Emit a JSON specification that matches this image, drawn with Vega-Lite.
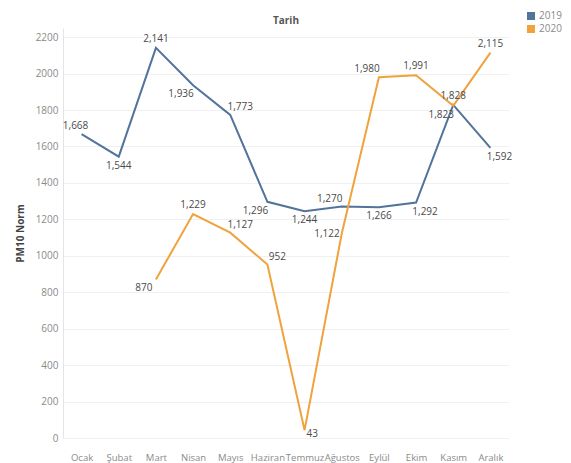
{
  "$schema": "https://vega.github.io/schema/vega-lite/v6.json",
  "autosize": {"type": "none"},
  "padding": {"left": 63, "top": 28, "right": 62, "bottom": 25},
  "width": 446,
  "height": 410,
  "background": "white",
  "title": {
    "text": "Tarih",
    "anchor": "middle",
    "frame": "group",
    "fontSize": 10,
    "fontWeight": "bold",
    "color": "#555555",
    "font": "Open Sans",
    "baseline": "middle",
    "offset": 0,
    "dy": 20
  },
  "config": {
    "font": "Open Sans",
    "view": {"stroke": null},
    "axis": {
      "labelFont": "Open Sans",
      "labelFontSize": 10,
      "labelColor": "#8a8a8a",
      "ticks": false,
      "titleFont": "Open Sans",
      "titleFontSize": 10,
      "titleFontWeight": "bold",
      "titleColor": "#444444"
    }
  },
  "data": {
    "values": [
      {"month": "Ocak", "year": "2019", "pm10": 1668},
      {"month": "Şubat", "year": "2019", "pm10": 1544},
      {"month": "Mart", "year": "2019", "pm10": 2141},
      {"month": "Nisan", "year": "2019", "pm10": 1936},
      {"month": "Mayıs", "year": "2019", "pm10": 1773},
      {"month": "Haziran", "year": "2019", "pm10": 1296},
      {"month": "Temmuz", "year": "2019", "pm10": 1244},
      {"month": "Ağustos", "year": "2019", "pm10": 1270},
      {"month": "Eylül", "year": "2019", "pm10": 1266},
      {"month": "Ekim", "year": "2019", "pm10": 1292},
      {"month": "Kasım", "year": "2019", "pm10": 1828},
      {"month": "Aralık", "year": "2019", "pm10": 1592},
      {"month": "Mart", "year": "2020", "pm10": 870},
      {"month": "Nisan", "year": "2020", "pm10": 1229},
      {"month": "Mayıs", "year": "2020", "pm10": 1127},
      {"month": "Haziran", "year": "2020", "pm10": 952},
      {"month": "Temmuz", "year": "2020", "pm10": 43},
      {"month": "Ağustos", "year": "2020", "pm10": 1122},
      {"month": "Eylül", "year": "2020", "pm10": 1980},
      {"month": "Ekim", "year": "2020", "pm10": 1991},
      {"month": "Kasım", "year": "2020", "pm10": 1823},
      {"month": "Aralık", "year": "2020", "pm10": 2115}
    ]
  },
  "encoding": {
    "x": {
      "field": "month",
      "type": "ordinal",
      "sort": ["Ocak", "Şubat", "Mart", "Nisan", "Mayıs", "Haziran", "Temmuz", "Ağustos", "Eylül", "Ekim", "Kasım", "Aralık"],
      "scale": {"type": "point", "padding": 0.5},
      "axis": {"title": null, "labelAngle": 0, "labelPadding": 14, "labelFontSize": 9.5, "domain": false, "grid": false}
    },
    "y": {
      "field": "pm10",
      "type": "quantitative",
      "scale": {"domain": [0, 2250], "nice": false},
      "axis": {
        "title": "PM10 Norm",
        "values": [0, 200, 400, 600, 800, 1000, 1200, 1400, 1600, 1800, 2000, 2200],
        "format": "d",
        "labelPadding": 5,
        "titlePadding": 10,
        "domain": true,
        "domainColor": "#e4e4e4",
        "grid": true,
        "gridColor": "#f0f0f0"
      }
    }
  },
  "layer": [
    {
      "mark": {"type": "line", "strokeWidth": 2},
      "encoding": {
        "color": {
          "field": "year",
          "type": "nominal",
          "scale": {"domain": ["2019", "2020"], "range": ["#52739a", "#f0a23c"]},
          "legend": {
            "title": null,
            "orient": "none",
            "legendX": 463,
            "legendY": -17,
            "symbolType": "square",
            "symbolSize": 64,
            "symbolStrokeWidth": 0,
            "labelFontSize": 10,
            "labelColor": "#8a8a8a",
            "labelFont": "Open Sans",
            "rowPadding": 3,
            "labelOffset": 3,
            "encode": {
              "symbols": {"update": {"fill": {"scale": "color", "field": "value"}, "fillOpacity": {"value": 1}}}
            }
          }
        }
      }
    },
    {
      "transform": [{"filter": "indexof(['2019|Mart','2019|Kasım','2020|Nisan','2020|Ekim','2020|Aralık'], datum.year + '|' + datum.month) >= 0"}],
      "mark": {"type": "text", "dx": 0, "dy": -9, "fontSize": 10, "color": "#4a4a4a"},
      "encoding": {"text": {"field": "pm10", "type": "quantitative", "format": ","}}
    },
    {
      "transform": [{"filter": "indexof(['2019|Şubat','2019|Temmuz','2019|Eylül'], datum.year + '|' + datum.month) >= 0"}],
      "mark": {"type": "text", "dx": 0, "dy": 9, "fontSize": 10, "color": "#4a4a4a"},
      "encoding": {"text": {"field": "pm10", "type": "quantitative", "format": ","}}
    },
    {
      "transform": [{"filter": "indexof(['2019|Ocak'], datum.year + '|' + datum.month) >= 0"}],
      "mark": {"type": "text", "dx": -6, "dy": -8, "fontSize": 10, "color": "#4a4a4a"},
      "encoding": {"text": {"field": "pm10", "type": "quantitative", "format": ","}}
    },
    {
      "transform": [{"filter": "indexof(['2019|Ağustos','2020|Eylül'], datum.year + '|' + datum.month) >= 0"}],
      "mark": {"type": "text", "dx": -12, "dy": -8, "fontSize": 10, "color": "#4a4a4a"},
      "encoding": {"text": {"field": "pm10", "type": "quantitative", "format": ","}}
    },
    {
      "transform": [{"filter": "indexof(['2019|Mayıs','2020|Mayıs','2020|Haziran'], datum.year + '|' + datum.month) >= 0"}],
      "mark": {"type": "text", "dx": 10, "dy": -8, "fontSize": 10, "color": "#4a4a4a"},
      "encoding": {"text": {"field": "pm10", "type": "quantitative", "format": ","}}
    },
    {
      "transform": [{"filter": "indexof(['2019|Nisan','2019|Haziran','2020|Mart','2020|Kasım'], datum.year + '|' + datum.month) >= 0"}],
      "mark": {"type": "text", "dx": -12, "dy": 9, "fontSize": 10, "color": "#4a4a4a"},
      "encoding": {"text": {"field": "pm10", "type": "quantitative", "format": ","}}
    },
    {
      "transform": [{"filter": "indexof(['2019|Ekim','2019|Aralık'], datum.year + '|' + datum.month) >= 0"}],
      "mark": {"type": "text", "dx": 9, "dy": 9, "fontSize": 10, "color": "#4a4a4a"},
      "encoding": {"text": {"field": "pm10", "type": "quantitative", "format": ","}}
    },
    {
      "transform": [{"filter": "indexof(['2020|Temmuz'], datum.year + '|' + datum.month) >= 0"}],
      "mark": {"type": "text", "align": "left", "dx": 2, "dy": 4, "fontSize": 10, "color": "#4a4a4a"},
      "encoding": {"text": {"field": "pm10", "type": "quantitative", "format": ","}}
    },
    {
      "transform": [{"filter": "indexof(['2020|Ağustos'], datum.year + '|' + datum.month) >= 0"}],
      "mark": {"type": "text", "align": "right", "dx": -2, "dy": 0, "fontSize": 10, "color": "#4a4a4a"},
      "encoding": {"text": {"field": "pm10", "type": "quantitative", "format": ","}}
    }
  ]
}
